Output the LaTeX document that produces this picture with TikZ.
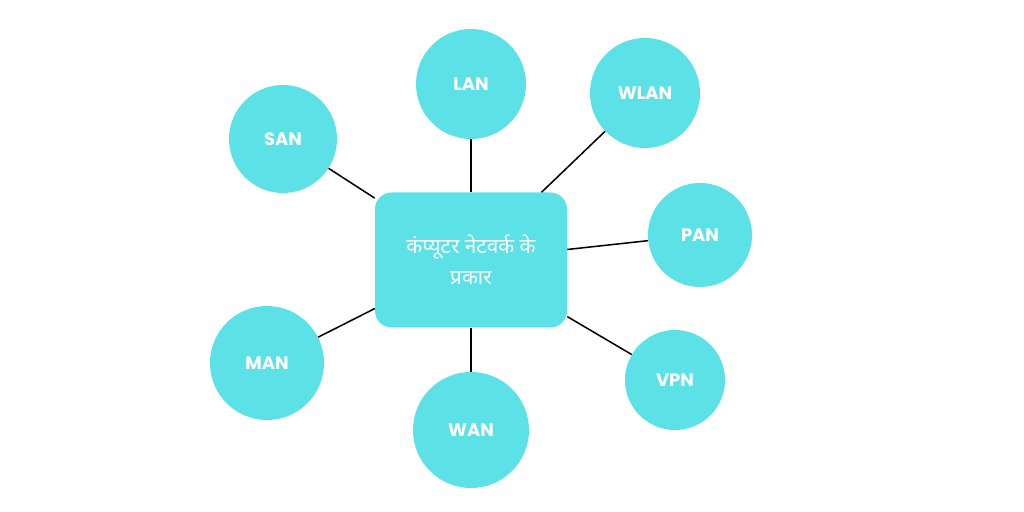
\documentclass[tikz,border=0pt]{standalone}
\usepackage{fontspec}
\setmainfont{Poppins}
\newfontfamily\hindifont[Script=Devanagari]{Noto Sans}
\definecolor{netcyan}{HTML}{5CE1E6}
\tikzset{
  nettype/.style={circle,fill=netcyan,text=white,font=\bfseries\fontsize{13}{15}\selectfont,inner sep=0pt},
  centerbox/.style={rectangle,rounded corners=12pt,fill=netcyan,text=white,align=center,
    minimum width=192*0.254mm,minimum height=135*0.254mm,
    font=\hindifont\bfseries\fontsize{15}{22}\selectfont},
  link/.style={draw=black,line width=1.1pt}
}
\begin{document}
\begin{tikzpicture}[x=0.254mm,y=-0.254mm]
  \useasboundingbox (0,0) rectangle (1024,512);

  % Centre
  \node[centerbox] (types) at (471,260) {कंप्यूटर नेटवर्क के\\प्रकार};

  % Network types
  \node[nettype,minimum size=110*0.254mm] (lan) at (471,84) {LAN};
  \node[nettype,minimum size=110*0.254mm] (wlan) at (645,93) {WLAN};
  \node[nettype,minimum size=108*0.254mm] (san) at (283,139) {SAN};
  \node[nettype,minimum size=104*0.254mm] (pan) at (700,235) {PAN};
  \node[nettype,minimum size=100*0.254mm] (vpn) at (675,380) {VPN};
  \node[nettype,minimum size=116*0.254mm] (wan) at (471,430) {WAN};
  \node[nettype,minimum size=114*0.254mm] (man) at (267,363) {MAN};

  % Links
  \foreach \n in {lan,wlan,san,pan,vpn,wan,man}
    \draw[link] (types) -- (\n);
\end{tikzpicture}
\end{document}
